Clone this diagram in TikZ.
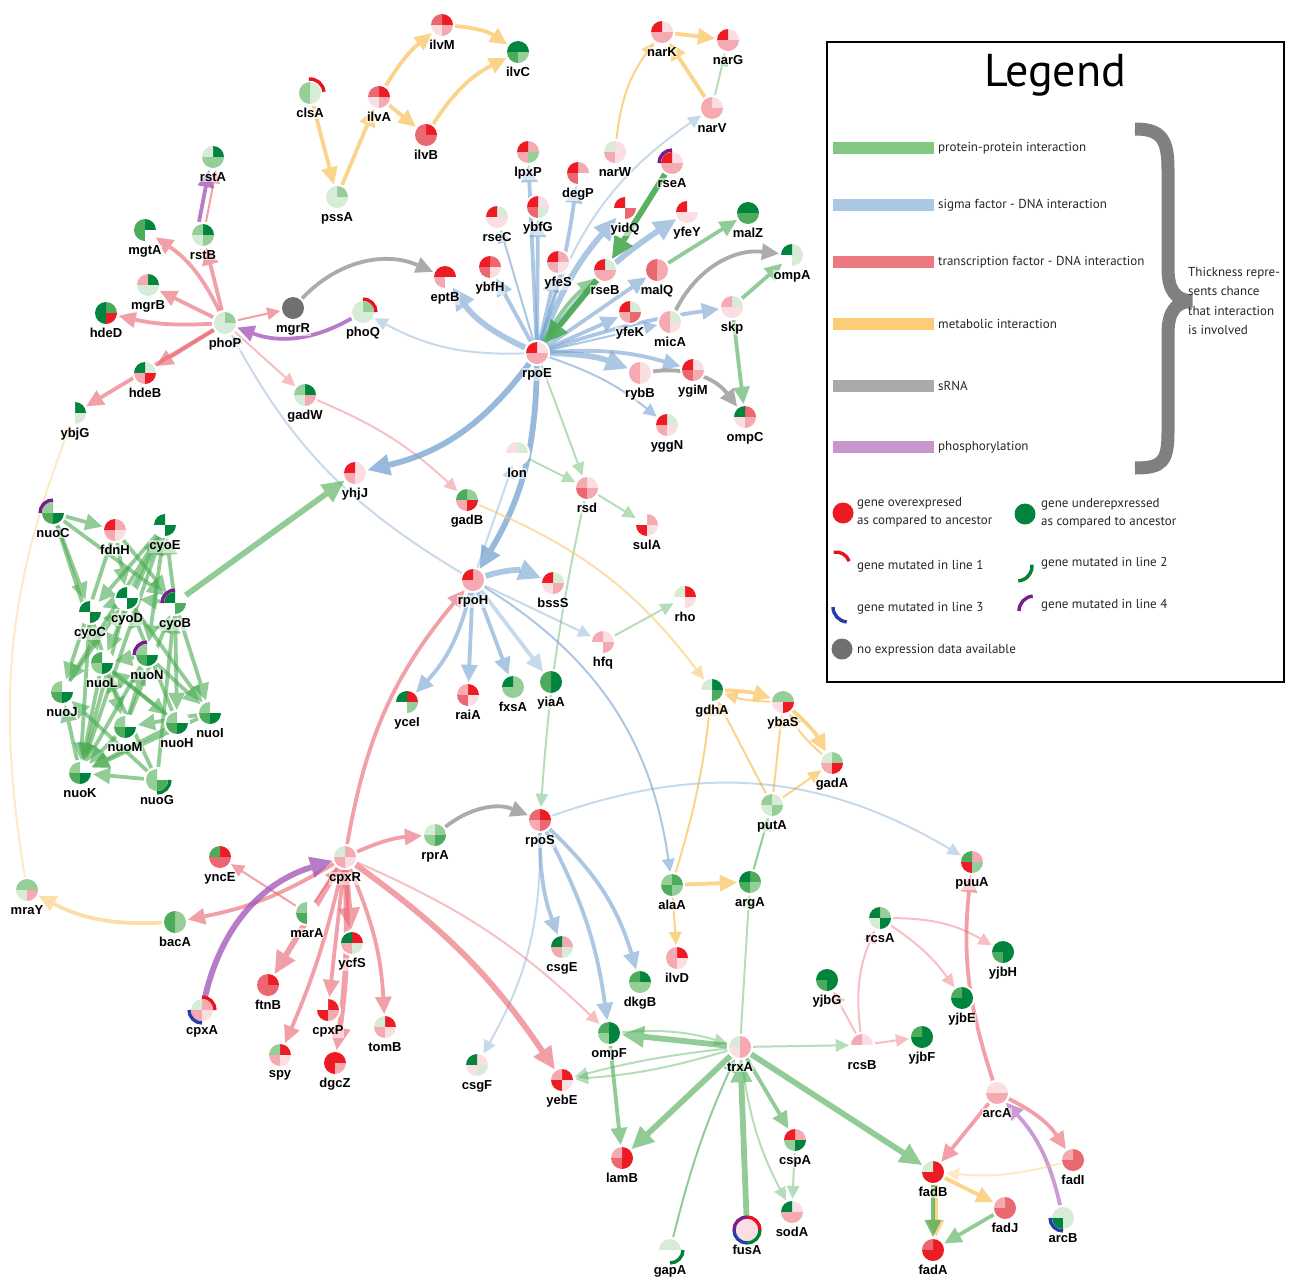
\documentclass[tikz,border=0pt]{standalone}
\usepackage{fontspec}
\setmainfont{Liberation Sans}
\newfontfamily\legfont{PT Sans}
\usepackage{tikz}
\usetikzlibrary{arrows.meta, positioning}
\pgfdeclarelayer{bg}
\pgfsetlayers{bg,main}

% expression shades (red = over, green = under)
\definecolor{rA}{RGB}{237,28,36}
\definecolor{rB}{RGB}{236,104,112}
\definecolor{rC}{RGB}{244,170,176}
\definecolor{rD}{RGB}{250,222,225}
\definecolor{gA}{RGB}{0,132,62}
\definecolor{gB}{RGB}{76,172,92}
\definecolor{gC}{RGB}{150,206,152}
\definecolor{gD}{RGB}{214,236,214}
\definecolor{nA}{RGB}{112,112,112}
\definecolor{mutred}{RGB}{230,20,30}
\definecolor{mutgreen}{RGB}{0,130,55}
\definecolor{mutblue}{RGB}{40,60,170}
\definecolor{mutpurple}{RGB}{120,30,140}
% interaction colours
\definecolor{ppicol}{RGB}{72,170,80}
\definecolor{sigcol}{RGB}{116,162,208}
\definecolor{tfcol}{RGB}{234,96,108}
\definecolor{metcol}{RGB}{250,200,110}
\definecolor{srnacol}{RGB}{150,150,150}
\definecolor{phoscol}{RGB}{165,90,185}
\definecolor{ppibar}{RGB}{130,200,130}
\definecolor{sigbar}{RGB}{170,200,228}
\definecolor{tfbar}{RGB}{238,120,128}
\definecolor{metbar}{RGB}{252,205,120}
\definecolor{srnabar}{RGB}{170,170,170}
\definecolor{phosbar}{RGB}{200,150,205}
\definecolor{braceg}{RGB}{128,128,128}

\newcommand{\genefont}{\fontsize{13}{14}\selectfont\bfseries}

% gene: name, position, quadrants TR TL BL BR
\newcommand{\gene}[6]{%
  \node[gene] (#1) at (#2) {};
  \begin{scope}[shift={(#1.center)}, x=1pt, y=1pt]
    \fill[#3] (0,0) -- (11,0) arc[start angle=0, end angle=90, radius=11] -- cycle;
    \fill[#4] (0,0) -- (0,11) arc[start angle=90, end angle=180, radius=11] -- cycle;
    \fill[#5] (0,0) -- (-11,0) arc[start angle=180, end angle=270, radius=11] -- cycle;
    \fill[#6] (0,0) -- (0,-11) arc[start angle=270, end angle=360, radius=11] -- cycle;
  \end{scope}
  \node[glabel, below=1.5pt of #1] (#1-t) {#1};
}
% mutation arc: node, colour, start, end, radius
\newcommand{\mutarc}[5]{%
  \begin{scope}[shift={(#1.center)}, x=1pt, y=1pt]
    \draw[#2, line width=3.4pt] (#3:#5) arc[start angle=#3, end angle=#4, radius=#5];
  \end{scope}
}

\begin{document}
\begin{tikzpicture}[x=1pt, y=-1pt,
  gene/.style={circle, fill=white, minimum size=26pt, inner sep=0pt},
  glabel/.style={font=\genefont, inner sep=0.6pt, fill=white, fill opacity=.55, text opacity=1},
  ppi/.style={draw=ppicol, opacity=.75},
  sig/.style={draw=sigcol, opacity=.75},
  tf/.style={draw=tfcol, opacity=.75},
  met/.style={draw=metcol, opacity=.8},
  srna/.style={draw=srnacol, opacity=.8},
  phos/.style={draw=phoscol, opacity=.8},
  lnthin/.style={line width=2pt, -{Triangle[length=13pt, width=13pt, line width=0pt]}},
  lnmid/.style={line width=3.8pt, -{Triangle[length=17pt, width=17pt, line width=0pt]}},
  lnwide/.style={line width=5.8pt, -{Triangle[length=22pt, width=22pt, line width=0pt]}},
  faint/.style={opacity=.4},
  soft/.style={opacity=.6},
  strong/.style={opacity=.9},
  legtext/.style={font=\legfont\fontsize{13}{18}\selectfont, text=black!85, inner sep=1pt}]
\useasboundingbox (0,0) rectangle (1290,1285);

% top: metabolic chain and nar genes
\gene{clsA}{310,93}{gD}{gC}{gC}{gD}
\gene{ilvA}{379,97}{rA}{rB}{rD}{rC}
\gene{ilvM}{442,25}{rA}{rB}{rD}{rC}
\gene{ilvB}{426,135}{rA}{rB}{rB}{rB}
\gene{ilvC}{518,52}{gA}{gA}{gB}{gC}
\gene{pssA}{337,197}{gC}{gD}{gD}{gD}
\gene{narK}{662,32}{rD}{rA}{rC}{rC}
\gene{narG}{728,40}{rD}{rA}{rC}{rC}
\gene{narV}{712,108}{rD}{rC}{rC}{rC}
\gene{narW}{615,152}{rD}{gD}{rC}{rD}

% phoP group
\gene{rstA}{213,157}{gA}{gD}{gC}{gC}
\gene{rstB}{203,235}{gA}{gC}{gD}{gC}
\gene{mgtA}{145,230}{gA}{gB}{gB}{white}
\gene{mgrB}{148,285}{gA}{rC}{gD}{gD}
\gene{hdeD}{106,313}{gB}{gA}{gA}{rA}
\gene{phoP}{225,323}{gC}{gD}{gD}{gD}
\gene{mgrR}{293,308}{nA}{nA}{nA}{nA}
\gene{phoQ}{363,312}{gC}{gD}{gD}{gD}
\gene{hdeB}{145,373}{gD}{gA}{rC}{rA}
\gene{gadW}{305,395}{gA}{gC}{gD}{rC}
\gene{ybjG}{75,413}{gA}{white}{white}{gD}

% rpoE group
\gene{lpxP}{528,152}{rC}{rA}{rC}{gC}
\gene{degP}{578,173}{rC}{rA}{rB}{white}
\gene{rseA}{672,163}{rD}{rA}{rC}{rC}
\gene{rseC}{497,217}{gD}{rA}{rD}{rD}
\gene{ybfG}{538,207}{rD}{rA}{rB}{gD}
\gene{yidQ}{625,208}{white}{rA}{white}{rB}
\gene{yfeY}{687,212}{white}{rA}{rD}{rD}
\gene{malZ}{748,213}{gA}{gA}{gB}{gB}
\gene{ompA}{792,255}{gD}{gA}{white}{gD}
\gene{ybfH}{490,267}{rB}{rA}{rB}{rD}
\gene{eptB}{445,277}{rA}{rA}{rC}{white}
\gene{yfeS}{558,262}{rC}{rA}{rC}{rD}
\gene{rseB}{605,270}{gD}{rA}{rC}{rC}
\gene{malQ}{657,270}{rC}{rB}{rB}{rC}
\gene{yfeK}{630,312}{gD}{rA}{rC}{rB}
\gene{micA}{670,322}{gD}{rC}{rC}{rD}
\gene{skp}{732,307}{gD}{rC}{rD}{rD}
\gene{rpoE}{537,353}{rD}{rA}{rC}{rC}
\gene{rybB}{640,373}{rD}{rC}{rC}{rD}
\gene{ygiM}{693,370}{rD}{rA}{rB}{rC}
\gene{ompC}{745,417}{rB}{gA}{rD}{rC}
\gene{yggN}{667,425}{gD}{rA}{rC}{rD}
\gene{yhjJ}{355,473}{rD}{rA}{rC}{rD}

% cyo / nuo cluster
\gene{nuoC}{53,513}{white}{gC}{gB}{gA}
\gene{fdnH}{115,530}{rC}{rA}{rC}{rD}
\gene{cyoE}{165,525}{white}{gA}{white}{gA}
\gene{cyoD}{127,598}{white}{gA}{white}{gA}
\gene{cyoB}{175,603}{white}{gA}{white}{gB}
\gene{cyoC}{90,612}{white}{gA}{white}{gA}
\gene{nuoN}{147,655}{white}{gC}{gB}{gA}
\gene{nuoL}{102,663}{white}{gB}{gC}{gA}
\gene{nuoJ}{62,692}{white}{gC}{gB}{gA}
\gene{nuoI}{210,713}{white}{gC}{gB}{gA}
\gene{nuoM}{125,727}{white}{gC}{gB}{gA}
\gene{nuoH}{177,723}{white}{gC}{gB}{gA}
\gene{nuoK}{80,773}{white}{gC}{gB}{gA}
\gene{nuoG}{157,780}{white}{gC}{gC}{gB}

% rpoH group
\gene{lon}{517,453}{gD}{rD}{white}{white}
\gene{gadB}{467,500}{gC}{gB}{rC}{rA}
\gene{rsd}{587,488}{rD}{rC}{rB}{rC}
\gene{sulA}{647,525}{rC}{white}{rA}{rD}
\gene{rpoH}{473,580}{rC}{rA}{rC}{rC}
\gene{bssS}{553,583}{gD}{rA}{rD}{rC}
\gene{rho}{685,597}{rA}{gD}{white}{rD}
\gene{hfq}{603,642}{rD}{rC}{white}{rC}
\gene{yceI}{407,702}{rA}{gA}{white}{gC}
\gene{raiA}{468,695}{rA}{rC}{rB}{rD}
\gene{fxsA}{513,687}{gC}{gA}{gC}{gC}
\gene{yiaA}{551,682}{gA}{gB}{gB}{gA}
\gene{gdhA}{712,690}{gA}{gD}{white}{gB}
\gene{ybaS}{783,702}{gC}{gC}{rD}{rA}
\gene{gadA}{832,763}{gC}{gD}{rC}{rA}
\gene{putA}{772,805}{gD}{gC}{gD}{gC}

% rpoS / cpxR group
\gene{rpoS}{540,820}{rA}{rB}{rC}{rB}
\gene{rprA}{435,835}{gC}{gD}{gC}{gB}
\gene{cpxR}{345,857}{rC}{gD}{rC}{rD}
\gene{yncE}{220,857}{rA}{gB}{rB}{rB}
\gene{mraY}{27,890}{gC}{gC}{gD}{rC}
\gene{bacA}{175,922}{gC}{gB}{gB}{gC}
\gene{marA}{307,913}{white}{gC}{gB}{white}
\gene{ycfS}{352,943}{rA}{gA}{rC}{gD}
\gene{ftnB}{268,985}{rA}{rB}{rB}{rB}
\gene{cpxA}{202,1010}{rC}{gD}{rC}{rD}
\gene{cpxP}{328,1010}{rA}{white}{rA}{rC}
\gene{tomB}{385,1027}{rA}{gD}{rC}{rD}
\gene{spy}{280,1055}{rA}{gC}{rC}{rD}
\gene{dgcZ}{335,1063}{rA}{rA}{rA}{rC}

% trxA group
\gene{alaA}{672,885}{gB}{gC}{gB}{gC}
\gene{argA}{750,882}{gB}{gA}{gB}{gC}
\gene{ilvD}{677,958}{rA}{rC}{rC}{rD}
\gene{csgE}{562,947}{rC}{gA}{rC}{gD}
\gene{dkgB}{640,982}{gA}{gB}{gC}{gC}
\gene{ompF}{609,1033}{gA}{gB}{gC}{gA}
\gene{trxA}{740,1047}{rC}{gD}{rD}{rC}
\gene{csgF}{477,1065}{rD}{gA}{rD}{gD}
\gene{yebE}{562,1080}{rA}{rC}{rA}{rD}
\gene{lamB}{622,1158}{rA}{rC}{rB}{rA}
\gene{cspA}{795,1140}{rC}{rA}{gC}{gA}
\gene{sodA}{792,1212}{rD}{gA}{rC}{rC}
\gene{fusA}{747,1230}{rD}{rD}{rD}{rD}
\gene{gapA}{670,1250}{gD}{gD}{white}{white}

% rcs / arc / fad group
\gene{puuA}{972,862}{rC}{gB}{rA}{gC}
\gene{rcsA}{880,918}{gC}{gA}{gD}{gA}
\gene{yjbG}{827,980}{gA}{gA}{gB}{gA}
\gene{yjbH}{1003,952}{gA}{gA}{gB}{gA}
\gene{yjbE}{962,998}{gA}{gB}{gA}{gA}
\gene{yjbF}{922,1037}{gA}{gB}{gA}{gA}
\gene{rcsB}{862,1045}{rD}{rC}{white}{white}
\gene{arcA}{997,1093}{rD}{rD}{rC}{rC}
\gene{fadB}{933,1172}{rA}{gD}{rA}{rA}
\gene{fadI}{1073,1160}{rB}{rC}{rB}{rB}
\gene{fadJ}{1005,1208}{rB}{rC}{rB}{rB}
\gene{arcB}{1063,1218}{gD}{gD}{gA}{gD}
\gene{fadA}{933,1250}{rA}{rB}{rA}{rA}

% mutations
\mutarc{clsA}{mutred}{95}{5}{14}
\mutarc{phoQ}{mutred}{90}{0}{13}
\mutarc{rseA}{mutpurple}{180}{90}{13}
\mutarc{nuoC}{mutpurple}{180}{90}{13}
\mutarc{cyoB}{mutpurple}{180}{90}{13}
\mutarc{nuoN}{mutpurple}{180}{90}{13}
\mutarc{nuoG}{mutgreen}{270}{360}{13}
\mutarc{cpxA}{mutred}{90}{0}{13}
\mutarc{cpxA}{mutblue}{180}{270}{13}
\mutarc{fusA}{mutred}{90}{0}{13}
\mutarc{fusA}{mutgreen}{360}{270}{13}
\mutarc{fusA}{mutblue}{270}{180}{13}
\mutarc{fusA}{mutpurple}{180}{90}{13}
\mutarc{gapA}{mutgreen}{270}{360}{13}
\mutarc{arcB}{mutblue}{180}{270}{13}

\begin{pgfonlayer}{bg}
  % metabolic, top
  \draw[met, lnmid] (clsA) -- (pssA);
  \draw[met, lnmid] (pssA) -- (ilvA);
  \draw[met, lnmid] (ilvA) to[bend left=10] (ilvM);
  \draw[met, lnmid] (ilvA) -- (ilvB);
  \draw[met, lnmid] (ilvM) to[bend left=15] (ilvC);
  \draw[met, lnmid] (ilvB) to[bend left=15] (ilvC);
  \draw[met, lnthin] (narW) to[bend left=15] (narK);
  \draw[met, lnmid] (narV) -- (narK);
  \draw[met, lnmid] (narK) -- (narG);
  \draw[ppi, lnthin, faint] (narV) -- (narG);

  % phoP
  \draw[tf, lnmid, soft] (phoP) -- (rstB);
  \draw[tf, lnthin, soft] ([xshift=3pt]rstB.north) -- ([xshift=3pt]rstA.south);
  \draw[phos, lnmid] ([xshift=-4pt]rstB.north) -- ([xshift=-4pt]rstA.south);
  \draw[tf, lnmid, soft] (phoP) to[bend right=15] (mgtA);
  \draw[tf, lnmid, soft] (phoP) -- (mgrB);
  \draw[tf, lnmid, soft] (phoP) to[bend left=8] (hdeD);
  \draw[tf, lnmid, soft] (phoP) -- (hdeB);
  \draw[tf, lnmid, soft] (phoP) -- (ybjG);
  \draw[tf, lnthin, soft] (phoP) -- (mgrR);
  \draw[tf, lnthin, faint] (phoP) -- (gadW);
  \draw[phos, lnmid] (phoQ) to[bend left=25] (phoP);
  \draw[srna, lnmid] (mgrR) to[bend left=35] (eptB);
  \draw[sig, lnthin, faint] (rpoE) to[bend left=15] (phoQ);
  \draw[sig, lnthin, faint] (rpoH) to[bend left=15] (phoP);
  \draw[tf, lnthin, faint] (gadW) to[bend left=10] (gadB);

  % rpoE fan
  \draw[sig, lnmid, soft] (rpoE) -- (lpxP);
  \draw[sig, lnmid, soft] (rpoE) to[bend right=5] (degP);
  \draw[sig, lnthin, soft] (rpoE) -- (rseC);
  \draw[sig, lnmid, soft] (rpoE) -- (ybfG);
  \draw[sig, lnwide, soft] (rpoE) to[bend left=10] (yidQ);
  \draw[sig, lnwide, soft] (rpoE) to[bend left=10] (yfeY);
  \draw[sig, lnmid, soft] (rpoE) -- (ybfH);
  \draw[sig, lnwide, soft] (rpoE) to[bend left=15] (eptB);
  \draw[sig, lnmid, soft] (rpoE) -- (yfeS);
  \draw[sig, lnmid, soft] (rpoE) -- (malQ);
  \draw[sig, lnmid, soft] (rpoE) -- (yfeK);
  \draw[sig, lnthin, soft] (rpoE) -- (micA);
  \draw[sig, lnwide, soft] (rpoE) to[bend left=10] (rybB);
  \draw[sig, lnmid, soft] (rpoE) to[bend left=10] (ygiM);
  \draw[sig, lnthin, soft] (rpoE) to[bend left=10] (yggN);
  \draw[sig, lnthin, faint] (rpoE) to[bend left=20] (narV);
  \draw[sig, lnmid, soft] (rpoE) to[bend left=5] (skp);
  \draw[sig, lnwide] (rpoE) to[bend left=20] (yhjJ);
  \draw[sig, lnwide] (rpoE) to[bend left=15] (rpoH);
  \draw[ppi, lnwide, strong] (rseA) -- (rseB);
  \draw[ppi, lnwide, strong] (rseB) -- (rpoE);
  \draw[ppi, lnmid, soft] (rpoE) to[bend left=10] (rseB);
  \draw[ppi, lnmid, soft] (malQ) -- (malZ);
  \draw[ppi, lnmid, soft] (skp) -- (ompA);
  \draw[ppi, lnmid, soft] (skp) -- (ompC);
  \draw[srna, lnmid] (micA) to[bend left=35] (ompA);
  \draw[srna, lnmid] (rybB) to[bend left=30] (ompC);
  \draw[ppi, lnthin, faint] (rpoE) -- (rsd);
  \draw[ppi, lnthin, faint] (lon) -- (rsd);
  \draw[ppi, lnthin, faint] (rsd) -- (sulA);
  \draw[ppi, lnthin, faint] (rsd) to[bend right=4] (rpoS);
  \draw[ppi, lnthin, faint] (hfq) -- (rho);

  % rpoH fan
  \draw[sig, lnthin, faint] (rpoH) -- (lon);
  \draw[sig, lnwide, soft] (rpoH) to[bend left=20] (bssS);
  \draw[sig, lnmid, soft] (rpoH) to[bend left=15] (yceI);
  \draw[sig, lnmid, soft] (rpoH) -- (raiA);
  \draw[sig, lnmid, soft] (rpoH) -- (fxsA);
  \draw[sig, lnmid, faint] (rpoH) -- (yiaA);
  \draw[sig, lnthin, faint] (rpoH) -- (hfq);
  \draw[sig, lnthin, soft] (rpoH) to[bend left=25] (alaA);
  \draw[tf, lnmid, soft] (cpxR) to[bend left=15] (rpoH);
  \draw[met, lnthin, soft] (gadB) to[bend left=15] (gdhA);

  % metabolic, middle right
  \draw[met, lnmid] (gdhA) to[bend left=8] (ybaS);
  \draw[met, lnthin] (ybaS) to[bend left=8] (gdhA);
  \draw[met, lnmid] (ybaS) to[bend left=10] (gadA);
  \draw[met, lnthin] (gadA) to[bend left=10] (ybaS);
  \draw[met, lnthin] (putA) -- (gdhA);
  \draw[met, lnthin] (putA) -- (ybaS);
  \draw[met, lnthin] (putA) -- (gadA);
  \draw[met, lnthin] (alaA) to[bend right=5] (gdhA);
  \draw[met, lnmid] (alaA) -- (argA);
  \draw[met, lnthin] (alaA) -- (ilvD);
  \draw[ppi, lnthin, soft] (argA) -- (putA);
  \draw[ppi, lnthin, faint] (trxA) -- (argA);

  % rpoS
  \draw[sig, lnmid, soft] (rpoS) to[bend right=10] (csgE);
  \draw[sig, lnmid, soft] (rpoS) to[bend left=15] (dkgB);
  \draw[sig, lnmid, soft] (rpoS) to[bend left=10] (ompF);
  \draw[sig, lnthin, faint] (rpoS) to[bend left=15] (csgF);
  \draw[sig, lnthin, faint] (rpoS) to[bend left=25] (puuA);
  \draw[srna, lnmid] (rprA) to[bend left=30] (rpoS);

  % cpxR fan
  \draw[tf, lnmid, soft] (cpxR) to[bend left=10] (rprA);
  \draw[tf, lnmid, soft] (cpxR) to[bend left=10] (bacA);
  \draw[tf, lnthin, soft] (marA) -- (yncE);
  \draw[tf, lnthin, soft] (marA) -- (cpxR);
  \draw[tf, lnwide, soft] (cpxR) -- (ftnB);
  \draw[tf, lnwide, soft] (cpxR) -- (ycfS);
  \draw[tf, lnmid, soft] (cpxR) to[bend left=5] (spy);
  \draw[tf, lnmid, soft] (cpxR) -- (cpxP);
  \draw[tf, lnwide, soft] (cpxR) to[bend left=5] (dgcZ);
  \draw[tf, lnmid, soft] (cpxR) to[bend left=10] (tomB);
  \draw[tf, lnwide, soft] (cpxR) to[bend left=10] (yebE);
  \draw[tf, lnthin, faint] (cpxR) to[bend left=10] (ompF);
  \draw[phos, lnwide] (cpxA) to[bend left=30] (cpxR);
  \draw[met, lnmid, soft] (bacA) to[bend left=15] (mraY);
  \draw[met, lnthin, faint] (mraY) to[bend left=15] (ybjG);

  % trxA
  \draw[ppi, lnwide, soft] (trxA) -- (ompF);
  \draw[ppi, lnthin, faint] (ompF) to[bend left=10] (trxA);
  \draw[ppi, lnthin, faint] (trxA) to[bend left=6] (yebE);
  \draw[ppi, lnthin, faint] (trxA) to[bend right=4] (yebE);
  \draw[ppi, lnmid, soft] (ompF) -- (lamB);
  \draw[ppi, lnwide, soft] (trxA) -- (lamB);
  \draw[ppi, lnmid, soft] (trxA) -- (cspA);
  \draw[ppi, lnthin, faint] (cspA) -- (sodA);
  \draw[ppi, lnthin, faint] (trxA) to[bend right=10] (sodA);
  \draw[ppi, lnthin, soft] (gapA) to[bend left=5] (trxA);
  \draw[ppi, lnwide, soft] (fusA) -- (trxA);
  \draw[ppi, lnthin, faint] (trxA) -- (rcsB);
  \draw[ppi, lnwide, soft] (trxA) -- (fadB);

  % rcs / arc / fad
  \draw[tf, lnthin, faint] (rcsB) -- (yjbG);
  \draw[tf, lnthin, faint] (rcsB) to[bend left=15] (rcsA);
  \draw[tf, lnthin, faint] (rcsB) -- (yjbF);
  \draw[tf, lnthin, faint] (rcsA) to[bend left=15] (yjbH);
  \draw[tf, lnthin, faint] (rcsA) to[bend left=10] (yjbE);
  \draw[tf, lnmid, soft] (arcA) to[bend left=12] (puuA);
  \draw[tf, lnmid, soft] (arcA) -- (fadB);
  \draw[tf, lnmid, soft] (arcA) to[bend left=15] (fadI);
  \draw[phos, lnmid, soft] (arcB) to[bend right=15] (arcA);
  \draw[met, lnthin, faint] (fadI) to[bend left=10] (fadB);
  \draw[met, lnmid] (fadB) -- (fadJ);
  \draw[met, lnmid] ([xshift=3pt]fadB.south) -- ([xshift=3pt]fadA.north);
  \draw[ppi, lnmid] (fadB) -- (fadA);
  \draw[ppi, lnmid, soft] (fadJ) -- (fadA);

  % cyo / nuo cluster
  \foreach \a/\b in {nuoC/fdnH, nuoC/cyoB, nuoC/cyoC, fdnH/cyoB, fdnH/nuoJ,
      cyoE/cyoC, cyoE/nuoL, cyoE/nuoJ, cyoB/cyoE, cyoD/cyoE, cyoD/cyoC,
      cyoB/cyoD, cyoB/nuoI, cyoB/nuoH, cyoC/nuoK, cyoC/nuoM, cyoD/nuoK,
      cyoD/nuoI, nuoN/nuoK, nuoN/nuoL, nuoN/nuoI, nuoL/nuoK, nuoL/nuoH,
      nuoK/nuoJ, nuoM/nuoK, nuoH/nuoK, nuoI/nuoK, nuoG/nuoK, nuoG/nuoL,
      nuoG/nuoJ, nuoH/nuoL, nuoM/nuoN, nuoI/nuoM, nuoH/cyoD, nuoM/cyoB,
      nuoJ/cyoD, nuoK/cyoE, nuoG/cyoB, fdnH/cyoD, nuoC/nuoL, cyoE/nuoN}
    \draw[ppi, lnmid, soft] (\a) -- (\b);
  \draw[ppi, lnwide, soft] (cyoB) -- (yhjJ);
\end{pgfonlayer}

% Legend
\draw[line width=1.6pt] (827,42) rectangle (1284,682);
\node[font=\legfont\fontsize{46}{50}\selectfont] (legtitle) at (1055,75) {Legend};
\foreach \yy/\cc/\lbl [count=\i] in {148/ppibar/protein-protein interaction,
    205/sigbar/sigma factor - DNA interaction,
    262/tfbar/transcription factor - DNA interaction,
    324/metbar/metabolic interaction,
    386/srnabar/sRNA,
    447/phosbar/phosphorylation} {
  \draw[\cc, line width=12pt] (833,\yy) -- (934,\yy);
  \node[legtext, anchor=west] (leg\i) at (937,\yy) {\lbl};
}
\draw[braceg, line width=13pt] (1135,129) .. controls (1162,129) and (1168,140) .. (1168,170)
  -- (1168,268) .. controls (1168,290) and (1175,300) .. (1192,301)
  .. controls (1175,302) and (1168,312) .. (1168,334)
  -- (1168,432) .. controls (1168,462) and (1162,468) .. (1135,468);
\node[legtext, anchor=west, align=left, font=\legfont\fontsize{13}{19.5}\selectfont] (thick) at (1187,301)
  {Thickness repre-\\sents chance\\that interaction\\is involved};

\node[circle, fill=rA, minimum size=21pt, inner sep=0pt] (kover) at (843,513) {};
\node[legtext, anchor=west, align=left] (kovert) at (856,512) {gene overexpresed\\as compared to ancestor};
\node[circle, fill=gA, minimum size=21pt, inner sep=0pt] (kunder) at (1025,514) {};
\node[legtext, anchor=west, align=left] (kundert) at (1040,513) {gene underepxressed\\as compared to ancestor};
\coordinate (kl1) at (836,566);
\coordinate (kl2) at (1017,566);
\coordinate (kl3) at (848,607);
\coordinate (kl4) at (1034,611);
\mutarc{kl1}{mutred}{100}{20}{14}
\mutarc{kl2}{mutgreen}{-85}{5}{15}
\mutarc{kl3}{mutblue}{180}{265}{15}
\mutarc{kl4}{mutpurple}{180}{95}{15}
\node[legtext, anchor=west] (kl1t) at (856,566) {gene mutated in line 1};
\node[legtext, anchor=west] (kl2t) at (1040,563) {gene mutated in line 2};
\node[legtext, anchor=west] (kl3t) at (856,608) {gene mutated in line 3};
\node[legtext, anchor=west] (kl4t) at (1040,605) {gene mutated in line 4};
\node[circle, fill=nA, minimum size=21pt, inner sep=0pt] (knone) at (842,649) {};
\node[legtext, anchor=west] (knonet) at (856,650) {no expression data available};
\end{tikzpicture}
\end{document}
